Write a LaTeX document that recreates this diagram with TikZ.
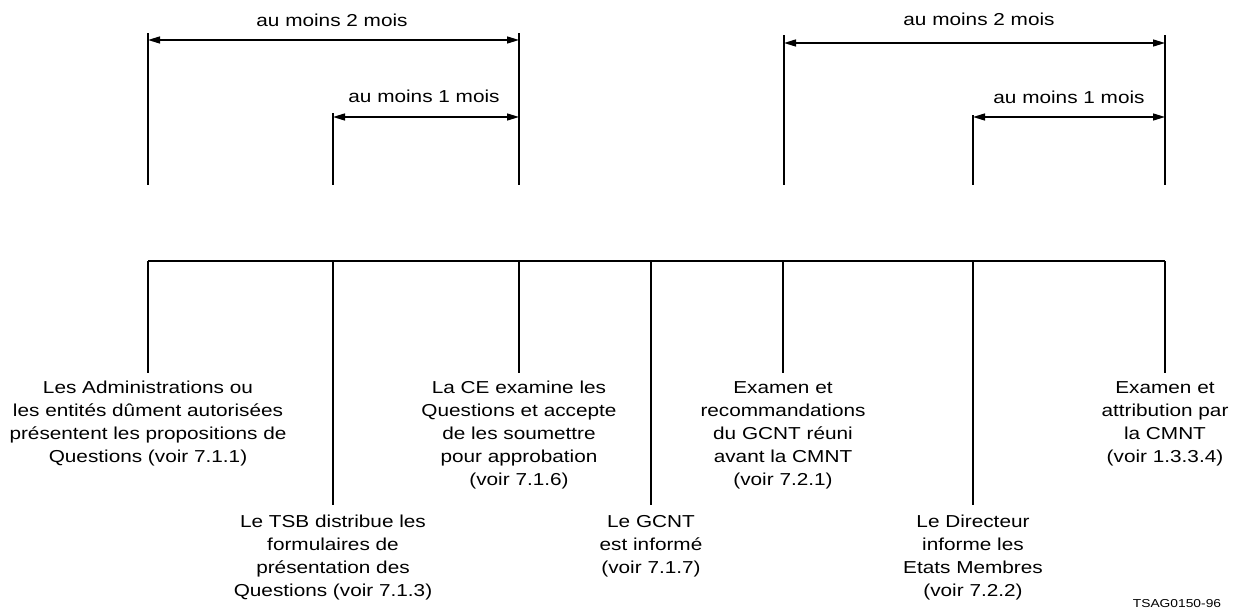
\documentclass[tikz,border=0pt]{standalone}
\usepackage{fontspec}
\setmainfont{Liberation Sans}[FakeStretch=1.2]
\usetikzlibrary{arrows.meta}
\begin{document}
\begin{tikzpicture}[x=1pt,y=-1pt,
  tick/.style={line width=1.4pt},
  span/.style={line width=1.4pt,{Triangle[length=12pt,width=7pt]}-{Triangle[length=12pt,width=7pt]}},
  lbl/.style={anchor=north,inner sep=0pt,align=center,font=\fontsize{17.3}{23}\selectfont,
    execute at begin node={\rule{0pt}{18pt}}},
  dur/.style={anchor=base,inner sep=0pt,font=\fontsize{17.3}{23}\selectfont},
  ref/.style={anchor=base,inner sep=0pt,font=\fontsize{11.5}{13}\selectfont}]
\useasboundingbox (0,0) rectangle (1243,615);
% upper ticks, left group
\coordinate (a0) at (148,185); \coordinate (a1) at (148,33);
\coordinate (b0) at (333,185); \coordinate (b1) at (333,113);
\coordinate (c0) at (519,185); \coordinate (c1) at (519,33);
\coordinate (a2) at (148,40);  \coordinate (c2) at (519,40);
\coordinate (b3) at (333,117); \coordinate (c3) at (519,117);
\draw[tick] (a0) -- (a1);
\draw[tick] (b0) -- (b1);
\draw[tick] (c0) -- (c1);
\draw[span] (a2) -- (c2);
\draw[span] (b3) -- (c3);
\node[dur] (m2l) at (332,27) {au moins 2 mois};
\node[dur] (m1l) at (424,103) {au moins 1 mois};
% upper ticks, right group
\coordinate (d0) at (784,185); \coordinate (d1) at (784,35);
\coordinate (e0) at (973,185); \coordinate (e1) at (973,115);
\coordinate (f0) at (1165,185); \coordinate (f1) at (1165,35);
\coordinate (d2) at (784,43);  \coordinate (f2) at (1165,43);
\coordinate (e3) at (973,117); \coordinate (f3) at (1165,117);
\draw[tick] (d0) -- (d1);
\draw[tick] (e0) -- (e1);
\draw[tick] (f0) -- (f1);
\draw[span] (d2) -- (f2);
\draw[span] (e3) -- (f3);
\node[dur] (m2r) at (979,26) {au moins 2 mois};
\node[dur] (m1r) at (1069,104) {au moins 1 mois};
% bus
\coordinate (p1) at (148,261);
\coordinate (p2) at (333,261);
\coordinate (p3) at (519,261);
\coordinate (p4) at (651,261);
\coordinate (p5) at (783,261);
\coordinate (p6) at (973,261);
\coordinate (p7) at (1165,261);
\draw[tick] (p1) -- (p7);
% bottom ticks ends
\coordinate (q1) at (148,373);
\coordinate (q2) at (333,505);
\coordinate (q3) at (519,373);
\coordinate (q4) at (651,505);
\coordinate (q5) at (783,373);
\coordinate (q6) at (973,505);
\coordinate (q7) at (1165,373);
\foreach \i in {1,...,7} {\draw[tick] (p\i) -- (q\i);}
% labels
\node[lbl] (t1) at (148,381) {Les Administrations ou\\les entités dûment autorisées\\présentent les propositions de\\Questions (voir 7.1.1)};
\node[lbl] (t2) at (333,515) {Le TSB distribue les\\formulaires de\\présentation des\\Questions (voir 7.1.3)};
\node[lbl] (t3) at (519,381) {La CE examine les\\Questions et accepte\\de les soumettre\\pour approbation\\(voir 7.1.6)};
\node[lbl] (t4) at (651,515) {Le GCNT\\est informé\\(voir 7.1.7)};
\node[lbl] (t5) at (783,381) {Examen et\\recommandations\\du GCNT réuni\\avant la CMNT\\(voir 7.2.1)};
\node[lbl] (t6) at (973,515) {Le Directeur\\informe les\\Etats Membres\\(voir 7.2.2)};
\node[lbl] (t7) at (1165,381) {Examen et\\attribution par\\la CMNT\\(voir 1.3.3.4)};
\node[ref] (code) at (1177,607) {TSAG0150-96};
\end{tikzpicture}
\end{document}
